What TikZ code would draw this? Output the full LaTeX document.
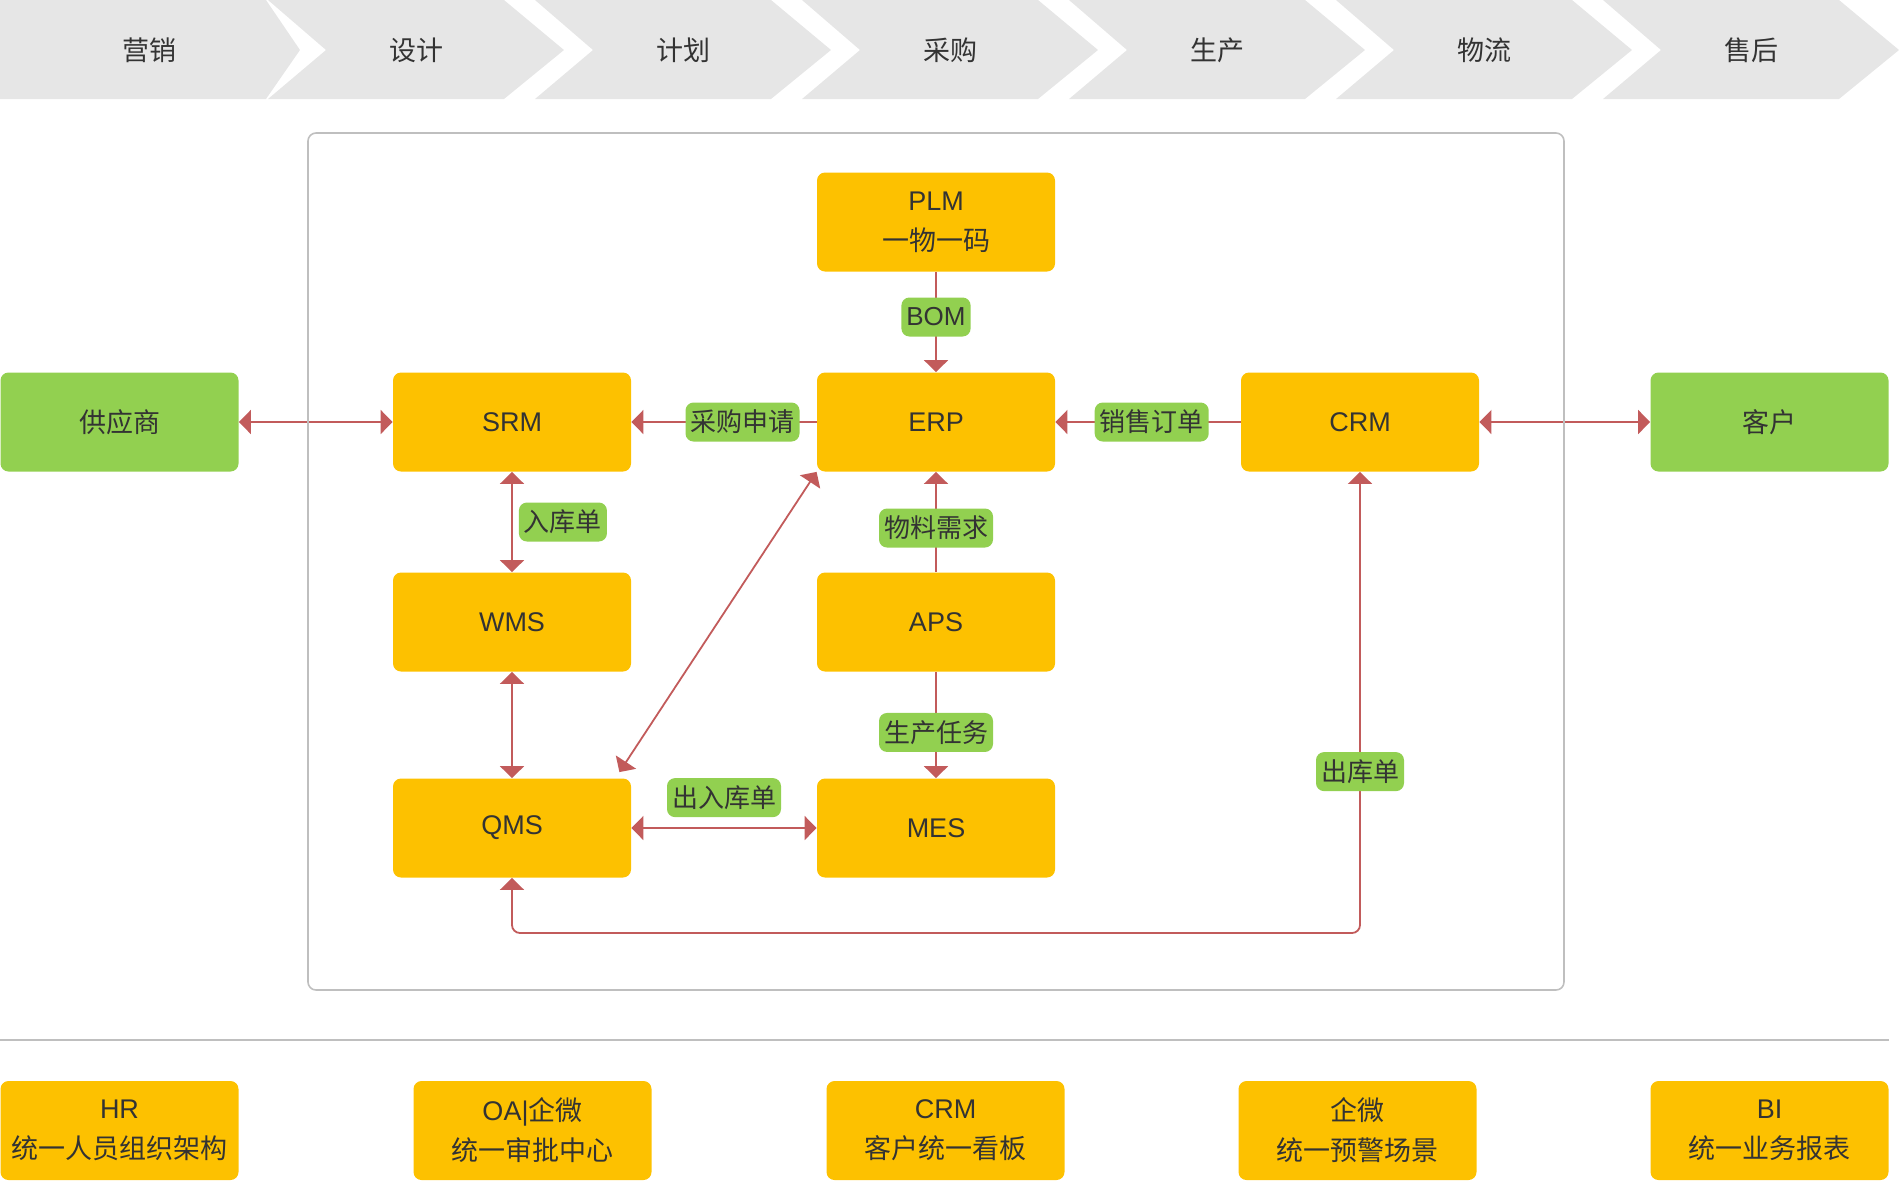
\documentclass[tikz,border=0pt]{standalone}
\usepackage{fontspec}
\setmainfont{Noto Sans CJK SC}
\newfontfamily\lat{Liberation Sans}
\usetikzlibrary{arrows.meta,calc}

\definecolor{gris}{HTML}{E6E6E6}
\definecolor{borde}{HTML}{BFBFBF}
\definecolor{amarillo}{HTML}{FDC100}
\definecolor{verde}{HTML}{92D050}
\definecolor{flecha}{HTML}{C25B5B}
\definecolor{texto}{HTML}{333333}

\tikzset{
  fase/.style={text=texto},
  sistema/.style={fill=amarillo, rounded corners=4pt, minimum width=119pt,
    minimum height=49.5pt, inner sep=0pt, text=texto, align=center},
  externo/.style={sistema, fill=verde},
  etiqueta/.style={fill=verde, rounded corners=4pt, minimum height=19.5pt,
    inner xsep=2.5pt, inner ysep=0pt, text=texto,
    font=\fontsize{13}{15}\selectfont},
  conn/.style={draw=flecha, line width=0.9pt},
  >={Triangle[length=6pt,width=12pt]}
}

\begin{document}
\begin{tikzpicture}[x=0.5pt,y=-0.5pt,font=\fontsize{13.5}{20}\selectfont]
        \useasboundingbox (0,0) rectangle (1900,1180);

        % Dibuja la cadena de fases (chevrones).
        \fill[gris] (0,0) -- (266,0) -- (300,50) -- (266,99) -- (0,99) -- cycle;
        \node[fase] (f0) at (149,50) {营销};
        \foreach \etapa [count=\i] in {设计,计划,采购,生产,物流,售后} {
            \pgfmathsetmacro{\xa}{268+(\i-1)*267}
            \fill[gris] (\xa,0) -- ++(236,0) -- ++(60,50) -- ++(-60,49)
                -- ++(-236,0) -- ++(58,-49) -- cycle;
            \node[fase] (f\i) at (\xa+148,50) {\etapa};
        }

        % Sistemas centrales.
        \node[sistema] (plm) at (936,222) {{\lat PLM}\\一物一码};
        \node[sistema] (erp) at (936,422) {\lat ERP};
        \node[sistema] (srm) at (512,422) {\lat SRM};
        \node[sistema] (crm) at (1360,422) {\lat CRM};
        \node[sistema] (wms) at (512,622) {\lat WMS};
        \node[sistema] (aps) at (936,622) {\lat APS};
        \node[sistema] (qms) at (512,828) {\lat QMS};
        \node[sistema] (mes) at (936,828) {\lat MES};

        % Actores externos.
        \node[externo] (prov) at (119.5,422) {供应商};
        \node[externo] (cli) at (1769.5,422) {客户};

        % Flujos de documentos entre sistemas.
        \draw[conn,->] (plm) -- node[etiqueta,pos=.45]{\lat BOM} (erp);
        \draw[conn,->] (erp) -- node[etiqueta,pos=.4]{采购申请} (srm);
        \draw[conn,->] (crm) -- node[etiqueta,pos=.48]{销售订单} (erp);
        \draw[conn,->] (aps) -- node[etiqueta,pos=.44]{物料需求} (erp);
        \draw[conn,->] (aps) -- node[etiqueta,pos=.57]{生产任务} (mes);
        \draw[conn,<->] (srm) -- node[etiqueta,anchor=west,xshift=3pt]{入库单} (wms);
        \draw[conn,<->] (wms) -- (qms);
        \draw[conn,<->] (qms) -- node[etiqueta,anchor=south,yshift=5pt]{出入库单} (mes);
        \draw[conn,<->] ($(qms.north east)+(-12,-6)$) -- (erp.south west);
        \draw[conn,<->] (prov) -- (srm);
        \draw[conn,<->] (crm) -- (cli);

        % Retorno de salidas hacia el CRM.
        \coordinate (esq) at (1360,933);
        \draw[conn,<->,rounded corners=4pt] (qms.south) |- (esq)
            -- node[etiqueta,pos=.35]{出库单} (crm.south);

        % Marco del bloque central y separador.
        \draw[borde,line width=0.8pt,rounded corners=4pt] (308,133) rectangle (1564,990);
        \draw[borde,line width=0.8pt] (0,1040) -- (1889,1040);

        % Plataformas comunes.
        \node[sistema] (hr) at (119.5,1130.5) {{\lat HR}\\统一人员组织架构};
        \node[sistema] (oa) at (532.5,1130.5) {{\lat OA|}企微\\统一审批中心};
        \node[sistema] (kb) at (945.5,1130.5) {{\lat CRM}\\客户统一看板};
        \node[sistema] (qw) at (1357.5,1130.5) {企微\\统一预警场景};
        \node[sistema] (bi) at (1769.5,1130.5) {{\lat BI}\\统一业务报表};
    \end{tikzpicture}
\end{document}
